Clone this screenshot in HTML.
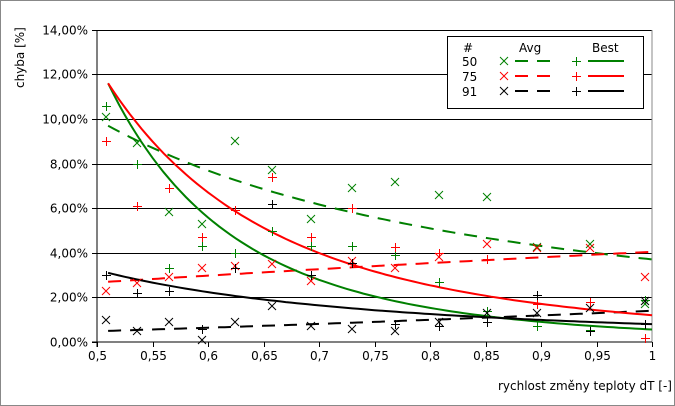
<!DOCTYPE html>
<html><head><meta charset="utf-8"><style>
body{margin:0;background:#fff}
svg{display:block;font-family:"DejaVu Sans","Liberation Sans",sans-serif;font-size:12px}
</style></head><body>
<svg id="s" width="675" height="406" xmlns="http://www.w3.org/2000/svg">
<rect x="0.5" y="0.5" width="674" height="405" fill="#fff" stroke="#888"/>
<g id="grid"></g>
<line x1="652" y1="30" x2="652" y2="342" stroke="#888"/>
<line x1="97" y1="30" x2="97" y2="347" stroke="#000"/>
<line x1="92" y1="342" x2="652" y2="342" stroke="#000"/>
<g id="lab"></g>
<text transform="translate(24,88) rotate(-90)" text-anchor="start">chyba [%]</text>
<text x="672" y="390" text-anchor="end">rychlost změny teploty dT [-]</text>
<g id="plot"></g>
<rect x="447.5" y="36.5" width="196" height="72" fill="#fff" stroke="#000"/>
<text x="463" y="52">#</text><text x="519" y="52">Avg</text><text x="592" y="52">Best</text>
<text x="462" y="66">50</text><text x="462" y="81">75</text><text x="462" y="96">91</text>
<g id="leg"></g>
<g stroke-width="2">
<line x1="515" y1="61" x2="552" y2="61" stroke="#008000" stroke-dasharray="13,9"/>
<line x1="515" y1="76" x2="552" y2="76" stroke="#ff0000" stroke-dasharray="13,9"/>
<line x1="515" y1="91" x2="552" y2="91" stroke="#000" stroke-dasharray="13,9"/>
<line x1="588" y1="61" x2="624" y2="61" stroke="#008000"/>
<line x1="588" y1="76" x2="624" y2="76" stroke="#ff0000"/>
<line x1="588" y1="91" x2="624" y2="91" stroke="#000"/>
</g>
</svg>
<script>
var NS="http://www.w3.org/2000/svg";
function el(p,t,a,txt){var e=document.createElementNS(NS,t);for(var k in a)e.setAttribute(k,a[k]);if(txt!=null)e.textContent=txt;document.getElementById(p).appendChild(e);return e;}
function X(t){return 97+(t-0.5)*1110;}
function Y(v){return 342-v*22.3;}
for(var i=0;i<=7;i++){var y=Math.round(Y(i*2))+0.5;
 if(i>0)el("grid","line",{x1:97,y1:y,x2:652,y2:y,stroke:"#000"});
 el("grid","line",{x1:92,y1:y,x2:97,y2:y,stroke:"#000"});
 el("lab","text",{x:88,y:y+4,"text-anchor":"end"},(i*2).toFixed(2).replace(".",",")+"%");}
var xl=["0,5","0,55","0,6","0,65","0,7","0,75","0,8","0,85","0,9","0,95","1"];
for(var i=0;i<=10;i++){var x=Math.round(X(0.5+i*0.05))+0.5;
 el("grid","line",{x1:x,y1:342,x2:x,y2:347,stroke:"#000"});
 el("lab","text",{x:x,y:360,"text-anchor":"middle"},xl[i]);}
function curve(a,b,col,dash){var d="";for(var t=0.51;t<=1.0001;t+=0.005){var v=a*Math.pow(t/0.51,b);d+=(d?"L":"M")+X(t).toFixed(1)+","+Y(v).toFixed(1);}
 var o={d:d,fill:"none",stroke:col,"stroke-width":2};if(dash)o["stroke-dasharray"]="13,9";el("plot","path",o);}
curve(9.7,-1.43,"#008000",1);curve(2.7,0.6,"#ff0000",1);curve(0.5,1.53,"#000",1);
curve(11.6,-4.5,"#008000");curve(11.6,-3.37,"#ff0000");curve(3.1,-2.01,"#000");
function mark(p,x,y,c,k){var r=4;
 if(k=="x")el(p,"path",{d:"M"+(x-r)+","+(y-r)+"L"+(x+r)+","+(y+r)+"M"+(x-r)+","+(y+r)+"L"+(x+r)+","+(y-r),stroke:c,fill:"none"});
 else el(p,"path",{d:"M"+(x-r)+","+(y+0.5)+"L"+(x+r+1)+","+(y+0.5)+"M"+(x+0.5)+","+(y-r)+"L"+(x+0.5)+","+(y+r+1),stroke:c,fill:"none"});}
var xs=[106,137,169,202,235,272,311,352,395,439,487,537,590,645];
var S=[
["#008000","x",[117,143,212,224,141,170,219,188,182,195,197,247,244,304]],
["#008000","+",[106,164,268,246,253,231,246,246,255,282,311,326,330,300]],
["#ff0000","x",[291,283,277,268,266,264,281,261,268,257,244,248,248,277]],
["#ff0000","+",[141,206,188,237,210,177,237,208,247,253,259,304,302,338]],
["#000","x",[320,331,322,340,322,306,326,329,331,322,313,313,308,301]],
["#000","+",[275,293,291,329,268,204,275,263,324,326,322,295,331,324]]];
S.forEach(function(s){s[2].forEach(function(y,i){mark("plot",xs[i],y,s[0],s[1]);});});
var cols=["#008000","#ff0000","#000"];
cols.forEach(function(c,i){mark("leg",504,61+15*i,c,"x");mark("leg",576,61+15*i,c,"+");});
</script>
</body></html>
